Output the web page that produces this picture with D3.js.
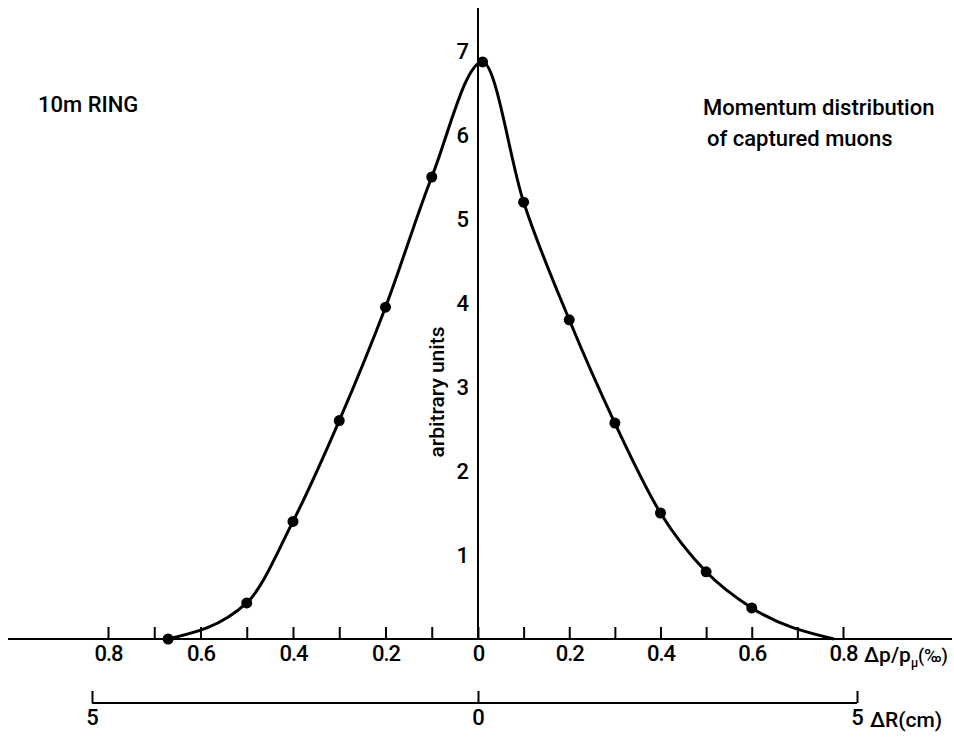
<!DOCTYPE html>
<html>
<head>
<meta charset="utf-8">
<script src="https://cdn.jsdelivr.net/npm/d3@7"></script>
<style>
  body { margin: 0; background: #fff; }
  svg { font-family: Roboto, "DejaVu Sans", sans-serif; font-weight: 500; }
  .axis text { font-size: 22px; fill: #000; font-family: Roboto, sans-serif; }
  .axis path, .axis line { stroke: #000; stroke-width: 2; }
</style>
</head>
<body>
<div id="chart"></div>
<script>
// measured points (dp/p in per mille, arbitrary units)
const dpValues   = [-0.67, -0.5, -0.4, -0.3, -0.2, -0.1, 0.01, 0.1, 0.2, 0.3, 0.4, 0.5, 0.6];
const countValues = [0, 0.43, 1.4, 2.6, 3.95, 5.5, 6.87, 5.2, 3.8, 2.57, 1.5, 0.8, 0.37];
// where the drawn curve runs out on the right (no dot there)
const curveEnd = {dp: 0.78, count: 0};

const xTicks = [-0.8, -0.7, -0.6, -0.5, -0.4, -0.3, -0.2, -0.1, 0, 0.1, 0.2, 0.3, 0.4, 0.5, 0.6, 0.7, 0.8];
const yTicks = [1, 2, 3, 4, 5, 6, 7];
const rTicks = [-5, 0, 5];

const WIDTH = 954, HEIGHT = 738;
const BASE_Y = 639;

const svg = d3.select("#chart").append("svg")
    .attr("width", WIDTH)
    .attr("height", HEIGHT);

const xScale = d3.scaleLinear()
    .domain([-0.8, 0, 0.8])
    .range([108, 478, 843]);

const yScale = d3.scaleLinear()
    .domain([0, 7])
    .range([BASE_Y, 51]);

const rScale = d3.scaleLinear()
    .domain([-5, 0, 5])
    .range([92, 478, 857]);

// long horizontal base line and vertical axis line
svg.append("line")
    .attr("x1", 8).attr("x2", 952)
    .attr("y1", BASE_Y).attr("y2", BASE_Y)
    .attr("stroke", "#000").attr("stroke-width", 2);

svg.append("line")
    .attr("x1", xScale(0)).attr("x2", xScale(0))
    .attr("y1", 8).attr("y2", BASE_Y)
    .attr("stroke", "#000").attr("stroke-width", 2);

// x axis: ticks pointing up, labels every 0.2
const fmt = (d) => {
  const a = Math.abs(d);
  if (Math.round(a * 10) % 2 !== 0) return "";
  return a === 0 ? "0" : d3.format(".1f")(a);
};
const xAxis = svg.append("g")
    .attr("class", "axis")
    .attr("transform", "translate(0," + BASE_Y + ")")
    .call(d3.axisBottom(xScale).tickValues(xTicks).tickSize(-12).tickPadding(6).tickFormat(fmt));
xAxis.select(".domain").remove();
xAxis.selectAll("text").attr("letter-spacing", "-1px");

const unitLabel = svg.append("text")
    .attr("x", 864).attr("y", 662)
    .attr("font-size", 21);
unitLabel.append("tspan").text("Δp/p");
unitLabel.append("tspan").attr("font-size", 12).attr("dy", 5).text("μ");
unitLabel.append("tspan").attr("font-size", 18).attr("dy", -5).text("(‰)");

// y axis labels
const yAxis = svg.append("g")
    .attr("class", "axis")
    .attr("transform", "translate(" + xScale(0) + ",0)")
    .call(d3.axisLeft(yScale).tickValues(yTicks).tickSize(0).tickPadding(9).tickFormat(d3.format("d")));
yAxis.select(".domain").remove();

svg.append("text")
    .attr("transform", "translate(444,392) rotate(-90)")
    .attr("text-anchor", "middle")
    .attr("font-size", 21)
    .text("arbitrary units");

// second scale, radial displacement
const rAxis = svg.append("g")
    .attr("class", "axis")
    .attr("transform", "translate(0,703)")
    .call(d3.axisBottom(rScale).tickValues(rTicks).tickSize(-12).tickPadding(6).tickFormat(d => Math.abs(d)));
rAxis.select(".domain")
    .attr("d", "M" + rScale(-5) + ",0H" + rScale(5));

svg.append("text")
    .attr("x", 870).attr("y", 727)
    .attr("font-size", 21)
    .text("ΔR(cm)");

// curve through measured points
const points = dpValues.map((d, i) => ({dp: d, count: countValues[i]}));
const curvePts = points.concat([curveEnd]);

svg.append("path")
    .datum(curvePts)
    .attr("fill", "none")
    .attr("stroke", "#000")
    .attr("stroke-width", 3)
    .attr("d", d3.line()
        .x(d => xScale(d.dp))
        .y(d => yScale(d.count))
        .curve(d3.curveMonotoneX));

svg.selectAll(".dot")
    .data(points)
    .enter().append("circle")
    .attr("class", "dot")
    .attr("cx", d => xScale(d.dp))
    .attr("cy", d => yScale(d.count))
    .attr("r", 5.5)
    .attr("fill", "#000");

// annotations
svg.append("text")
    .attr("x", 38).attr("y", 112)
    .attr("font-size", 22)
    .text("10m  RING");

svg.append("text")
    .attr("x", 703).attr("y", 115)
    .attr("font-size", 22)
    .text("Momentum distribution");
svg.append("text")
    .attr("x", 707).attr("y", 146)
    .attr("font-size", 22)
    .text("of captured muons");
</script>
</body>
</html>
